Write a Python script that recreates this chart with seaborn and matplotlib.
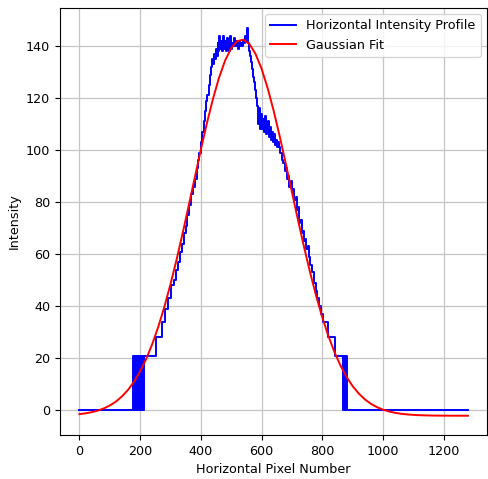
import numpy as np
import pandas as pd
import seaborn as sns
import matplotlib
matplotlib.use("Agg")
import matplotlib.pyplot as plt

# perfil de intensidad: x donde empieza cada escalon y su nivel
perfil_x = [0, 177, 179, 183, 185, 189, 191, 195, 197, 201, 203, 207, 209, 213,
            251, 271, 281, 292, 302, 310, 318, 326, 332, 338,
            344, 350, 356, 362, 368, 374, 380, 386, 390, 395,
            400, 405, 410, 414, 418, 422, 426, 430, 434, 437,
            440, 443, 446, 449, 452, 455, 458, 461, 464, 467,
            470, 473, 476, 479, 482, 485, 488, 491, 494, 497,
            500, 503, 506, 509, 512, 515, 518, 521, 524, 527,
            530, 533, 536, 539, 542, 545, 548, 551, 554, 557,
            560, 563, 566, 569, 572, 575, 578, 581, 584, 587,
            590, 593, 596, 599, 602, 605, 608, 611, 614, 617,
            620, 623, 626, 629, 632, 635, 638, 641, 644, 647,
            650, 653, 656, 662, 668, 672, 676, 680, 684, 688,
            692, 696, 700, 704, 708, 712, 716, 720, 724, 728,
            732, 736, 740, 744, 748, 752, 756, 760, 766, 772,
            778, 784, 790, 796, 804, 820, 843, 870, 872, 874,
            876, 878, 880, 883, 1279]
perfil_y = [0, 21, 0, 21, 0, 21, 0, 21, 0, 21, 0, 21, 0, 21,
            28, 34, 39, 43, 48, 50, 54, 57, 61, 64,
            68, 71, 75, 79, 83, 86, 89, 93, 96, 99,
            103, 107, 111, 115, 119, 121, 125, 129, 132, 135,
            133, 137, 135, 139, 136, 141, 138, 144, 139, 142,
            138, 144, 139, 142, 138, 143, 139, 141, 138, 144,
            139, 141, 140, 143, 140, 142, 140, 141, 139, 142,
            140, 141, 140, 142, 141, 144, 142, 147, 143, 141,
            138, 136, 134, 131, 128, 126, 123, 120, 117, 115,
            110, 116, 108, 114, 108, 112, 107, 113, 106, 110,
            108, 111, 105, 109, 104, 107, 103, 106, 102, 104,
            101, 103, 101, 99, 96, 95, 92, 93, 89, 90,
            86, 88, 84, 85, 81, 82, 77, 78, 72, 73,
            68, 69, 65, 66, 62, 63, 59, 56, 53, 49,
            46, 43, 40, 37, 34, 28, 21, 0, 21, 0,
            21, 0, 21, 0, 0]

ajuste_x = list(range(0, 1281, 20))
ajuste_y = [-1.48, -1.18, -0.74, -0.14, 0.70, 1.83, 3.34, 5.30, 7.83, 11.00,
            14.95, 19.74, 25.45, 32.13, 39.79, 48.40, 57.84, 67.97, 78.59, 89.39,
            100.09, 110.30, 119.65, 127.81, 134.40, 139.16, 141.88, 142.43, 140.79, 137.03,
            131.32, 123.90, 115.11, 105.27, 94.77, 83.98, 73.24, 62.83, 53.02, 43.98,
            35.84, 28.67, 22.48, 17.23, 12.87, 9.32, 6.49, 4.25, 2.53, 1.22,
            0.25, -0.46, -0.98, -1.34, -1.60, -1.77, -1.89, -1.96, -2.02, -2.05,
            -2.07, -2.08, -2.09, -2.09, -2.10]

perfil = pd.DataFrame({'x': perfil_x, 'y': perfil_y})
ajuste = pd.DataFrame({'x': ajuste_x, 'y': ajuste_y})

plt.rcParams['font.size'] = 9.2

fig = plt.figure(figsize=(4.88, 4.79), dpi=100)
ax = fig.add_axes([60 / 488, 44 / 479, 427 / 488, 427 / 479])

sns.lineplot(data=perfil, x='x', y='y', ax=ax, color='blue', linewidth=1.4,
             drawstyle='steps-post', label='Horizontal Intensity Profile')
sns.lineplot(data=ajuste, x='x', y='y', ax=ax, color='red', linewidth=1.4,
             label='Gaussian Fit')

ax.set_xlim(-64, 1343)
ax.set_ylim(-9.5, 154.6)
ax.set_xticks([0, 200, 400, 600, 800, 1000, 1200])
ax.set_xlabel('Horizontal Pixel Number')
ax.set_ylabel('Intensity')
ax.grid(True, color='#c4c4c4', linewidth=0.9)
ax.legend(loc='upper right')

plt.savefig('out.png', dpi=100)
plt.close()
